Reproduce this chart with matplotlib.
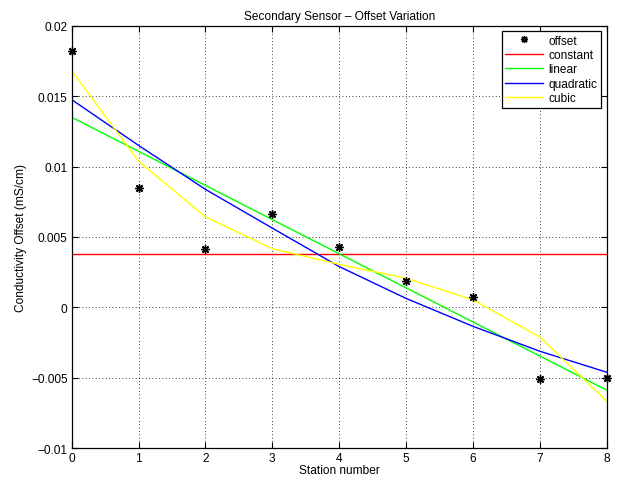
import numpy as np
import matplotlib.pyplot as plt
from matplotlib.ticker import FuncFormatter

plt.rcParams['font.family'] = ['Liberation Sans', 'DejaVu Sans']

# station numbers and values
stations = np.arange(9)
offset = [0.01823, 0.00847, 0.00417, 0.00661, 0.00431, 0.00188, 0.00075, -0.00509, -0.00500]
constant = [0.00380] * 9
linear = [0.01350, 0.01108, 0.00866, 0.00623, 0.00381, 0.00139, -0.00103, -0.00345, -0.00587]
quadratic = [0.01475, 0.01150, 0.00838, 0.00563, 0.00290, 0.00064, -0.00134, -0.00311, -0.00460]
cubic = [0.01680, 0.01038, 0.00643, 0.00417, 0.00306, 0.00207, 0.00054, -0.00210, -0.00665]

fs = 8.6

fig = plt.figure(figsize=(6.22, 4.81), dpi=100)
ax = fig.add_axes([0.1153, 0.0659, 0.8601, 0.8786])

ax.plot(stations, offset, linestyle='none', marker=(8, 2, 0), color='k', markersize=6,
        markeredgewidth=1.0, label='offset', clip_on=False, zorder=5)
ax.plot(stations, constant, color=(1, 0, 0), lw=1, label='constant')
ax.plot(stations, linear, color=(0, 1, 0), lw=1, label='linear')
ax.plot(stations, quadratic, color=(0, 0, 1), lw=1, label='quadratic')
ax.plot(stations, cubic, color=(1, 1, 0), lw=1, label='cubic')

ax.set_xlim(0, 8)
ax.set_ylim(-0.01, 0.02)
ax.set_xticks(range(9))
ax.set_yticks([-0.01, -0.005, 0, 0.005, 0.01, 0.015, 0.02])
ax.yaxis.set_major_formatter(FuncFormatter(
    lambda v, p: ('%g' % v).replace('-', '\u2212') if abs(v) > 1e-12 else '0'))

ax.grid(True, color='k', linestyle=(0, (1, 3)), linewidth=0.6)
ax.tick_params(direction='in', top=True, right=True, labelsize=fs, length=4, width=0.8, pad=3)
for s in ax.spines.values():
    s.set_linewidth(0.9)

ax.set_xlabel('Station number', fontsize=fs, labelpad=0)
ax.set_ylabel('Conductivity Offset (mS/cm)', fontsize=fs, labelpad=3)
ax.set_title('Secondary Sensor \u2013 Offset Variation', fontsize=fs, pad=5)

leg = ax.legend(loc='upper right', fontsize=fs, fancybox=False, framealpha=1,
                edgecolor='k', borderaxespad=0.45, handlelength=3.2,
                handletextpad=0.45, labelspacing=0.2, borderpad=0.3, markerscale=0.85)
leg.get_frame().set_linewidth(0.9)

fig.savefig('out.png', dpi=100)
